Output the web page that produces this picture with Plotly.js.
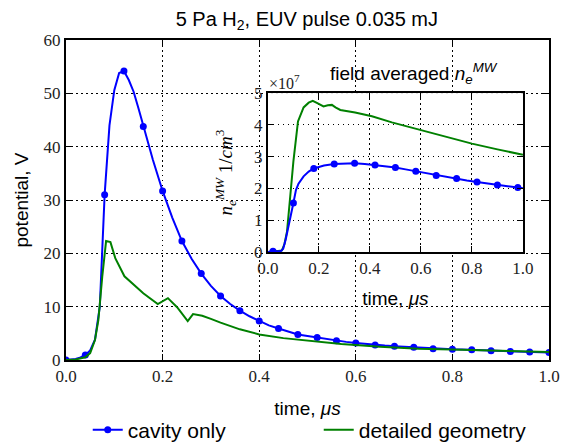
<!DOCTYPE html>
<html>
<head>
<meta charset="utf-8">
<script src="https://cdn.plot.ly/plotly-3.0.1.min.js"></script>
<style>html,body{margin:0;padding:0;background:#fff}#chart{width:563px;height:443px}</style>
</head>
<body>
<div id="chart"></div>
<script>
// ---- main plot: potential, V ----
const cavityT = [0,0.01,0.02,0.03,0.04,0.05,0.06,0.07,0.08,0.09,0.10,0.11,0.12,0.13,0.14,0.15,0.16,0.17,0.18,0.19,0.20,
  0.22,0.24,0.26,0.28,0.30,0.32,0.34,0.36,0.38,0.40,0.42,0.44,0.46,0.48,0.50,0.52,0.54,0.56,0.58,0.60,
  0.62,0.64,0.66,0.68,0.70,0.72,0.74,0.76,0.78,0.80,0.82,0.84,0.86,0.88,0.90,0.92,0.94,0.96,0.98,1.00];
const cavityV = [0,0.05,0.2,0.5,0.95,1.8,3.8,10,31,44,50.6,53.8,54.2,52.5,50.3,47.2,43.8,40.5,37.5,34.6,31.7,
  26.7,22.3,19.0,16.2,13.9,12.0,10.5,9.25,8.2,7.3,6.5,5.9,5.3,4.8,4.5,4.2,3.9,3.6,3.4,3.2,
  3.0,2.8,2.7,2.6,2.5,2.4,2.25,2.1,2.05,2.0,1.95,1.9,1.8,1.75,1.7,1.6,1.55,1.5,1.45,1.4];
const detailedT = [0,0.02,0.04,0.05,0.06,0.067,0.075,0.083,0.092,0.102,0.121,0.16,0.19,0.211,0.23,0.252,0.263,0.282,
  0.30,0.32,0.36,0.40,0.45,0.50,0.57,0.65,0.73,0.82,0.90,1.0];
const detailedV = [0,0.1,0.5,1.3,3.75,7.5,15.6,22.3,22.1,19.1,15.7,12.5,10.5,11.6,9.9,7.3,8.6,8.3,
  7.7,7.0,5.75,4.8,4.1,3.6,3.0,2.5,2.1,1.9,1.7,1.5];

// ---- inset: field averaged n_e^MW (x1e7 1/cm^3) ----
const insetCavT = [0,0.02,0.04,0.05,0.06,0.07,0.08,0.09,0.10,0.11,0.12,0.14,0.16,0.18,0.20,0.22,0.26,0.30,0.34,0.38,
  0.42,0.46,0.50,0.54,0.58,0.62,0.66,0.70,0.74,0.78,0.82,0.86,0.90,0.94,0.98,1.00];
const insetCavN = [0,0.02,0.02,0.02,0.1,0.4,0.75,1.15,1.54,1.95,2.15,2.38,2.53,2.63,2.68,2.72,2.77,2.79,2.79,2.77,
  2.74,2.70,2.66,2.60,2.54,2.47,2.41,2.36,2.31,2.25,2.20,2.15,2.11,2.07,2.03,2.01];
const insetDetT = [0,0.02,0.04,0.055,0.065,0.075,0.087,0.10,0.118,0.14,0.16,0.176,0.192,0.218,0.235,0.251,0.265,0.284,
  0.342,0.408,0.486,0.60,0.70,0.80,0.90,1.0];
const insetDetN = [0,0.03,0.03,0.05,0.25,0.65,1.7,2.85,4.11,4.55,4.7,4.76,4.69,4.58,4.62,4.63,4.55,4.47,
  4.39,4.27,4.08,3.83,3.61,3.41,3.23,3.06];

const mainXTicks = [0,0.2,0.4,0.6,0.8,1.0];
const mainYTicks = [0,10,20,30,40,50,60];
const insetYTicks = [0,1,2,3,4,5];

const BLUE = '#0000ff', GREEN = '#008000';
// marker shown only at sample times start, start+step, ...
function markerColors(t, start, step) {
  return t.map(v => {
    const k = (v - start) / step;
    return (k > -1e-6 && Math.abs(k - Math.round(k)) < 1e-6) ? BLUE : 'rgba(0,0,0,0)';
  });
}

const traces = [
  {x: cavityT, y: cavityV, type: 'scatter', mode: 'lines+markers', name: 'cavity only',
   line: {color: BLUE, width: 2}, marker: {size: 7, color: markerColors(cavityT, 0, 0.04), line: {width: 0}},
   xaxis: 'x', yaxis: 'y'},
  {x: detailedT, y: detailedV, type: 'scatter', mode: 'lines', name: 'detailed geometry',
   line: {color: GREEN, width: 2}, xaxis: 'x', yaxis: 'y'},
  {x: insetDetT, y: insetDetN, type: 'scatter', mode: 'lines', showlegend: false,
   line: {color: GREEN, width: 2}, xaxis: 'x2', yaxis: 'y2'},
  {x: insetCavT, y: insetCavN, type: 'scatter', mode: 'lines+markers', showlegend: false,
   line: {color: BLUE, width: 2}, marker: {size: 7, color: markerColors(insetCavT, 0.02, 0.08), line: {width: 0}},
   xaxis: 'x2', yaxis: 'y2'}
];

const serifFam = 'Liberation Serif, DejaVu Serif, serif';
const sans = 'Liberation Sans, Arial, sans-serif';
const gridDash = '1.5px,3.5px';

function ax(extra) {
  return Object.assign({
    showline: true, linecolor: '#000', linewidth: 2, mirror: 'ticks',
    ticks: 'inside', ticklen: 6, tickwidth: 1, tickcolor: '#000',
    showgrid: true, gridcolor: '#000', gridwidth: 1, griddash: gridDash,
    zeroline: false, fixedrange: true, automargin: false,
    tickfont: {family: serifFam, size: 17, color: '#222'}
  }, extra);
}

const layout = {
  width: 563, height: 443,
  font: {family: serifFam, size: 17, color: '#222'},
  margin: {l: 66, r: 14, t: 40, b: 83, autoexpand: false},
  paper_bgcolor: '#fff', plot_bgcolor: '#fff',
  title: {text: '5 Pa H<sub>2</sub>, EUV pulse 0.035 mJ', font: {family: sans, size: 20, color: '#000'},
          x: 0.545, xanchor: 'center', y: 0.958, yanchor: 'middle'},
  xaxis: ax({domain: [0, 1], range: [0, 1], tickvals: mainXTicks, tickformat: '.1f',
    title: {text: 'time, <i>μs</i>', font: {family: sans, size: 19, color: '#000'}, standoff: 16}, anchor: 'y'}),
  yaxis: ax({domain: [0, 1], range: [0, 60], tickvals: mainYTicks,
    title: {text: 'potential, V', font: {family: sans, size: 19, color: '#000'}, standoff: 10}, anchor: 'x'}),
  xaxis2: ax({domain: [0.418, 0.946], range: [0, 1], tickvals: mainXTicks, tickformat: '.1f',
    title: {text: 'time, <i>μs</i>', font: {family: sans, size: 19, color: '#000'}, standoff: 14}, anchor: 'y2'}),
  yaxis2: ax({domain: [0.3375, 0.834], range: [0, 5], tickvals: insetYTicks,
    title: {text: '<i>n</i><sub><i>e</i></sub><sup><i>MW</i></sup> 1/<i>cm</i><sup>3</sup>',
            font: {family: serifFam, size: 19, color: '#000'}, standoff: 16}, anchor: 'x2'}),
  legend: {orientation: 'h', x: 0.045, xanchor: 'left', y: -0.219, yanchor: 'middle',
    font: {family: sans, size: 21, color: '#000'}, entrywidth: 186, entrywidthmode: 'pixels',
    bgcolor: 'rgba(0,0,0,0)'},
  annotations: [
    {text: 'field averaged <i>n</i><sub><i>e</i></sub><sup><i>MW</i></sup>', xref: 'paper', yref: 'paper',
     x: (414 - 66) / 483, y: (360 - 74) / 320, xanchor: 'center', yanchor: 'middle', showarrow: false,
     font: {family: sans, size: 19, color: '#000'}},
    {text: '×10<sup>7</sup>', xref: 'paper', yref: 'paper', x: (267 - 66) / 483, y: (360 - 82) / 320,
     xanchor: 'left', yanchor: 'middle', showarrow: false, font: {family: serifFam, size: 16, color: '#222'}}
  ],
  showlegend: true
};

Plotly.newPlot('chart', traces, layout, {staticPlot: true, displayModeBar: false});
</script>
</body>
</html>
